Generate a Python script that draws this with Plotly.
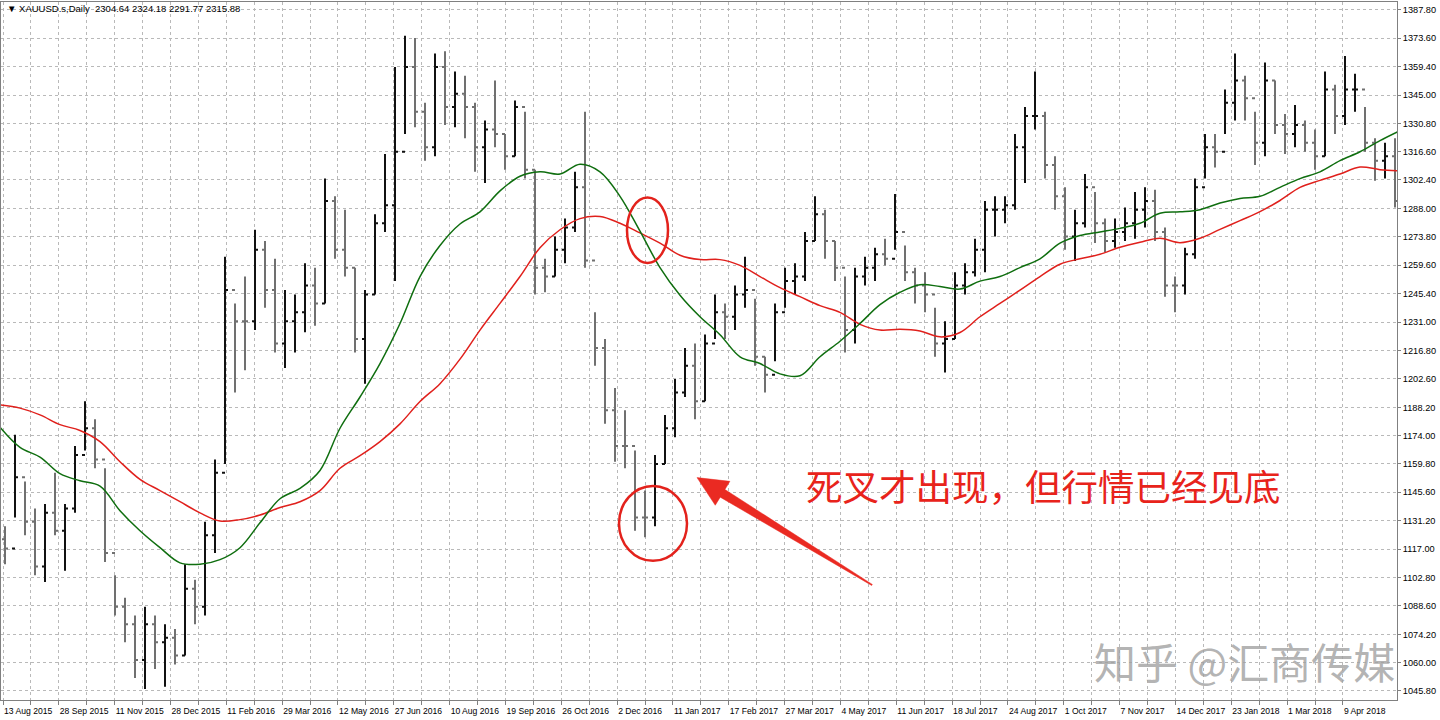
import plotly.graph_objects as go

# ---------------- data ----------------
# Each price point = one block of ~5.7 daily bars (block high / low / close)
block_high = [1128.5, 1174.4, 1150.9, 1137.4, 1139.7, 1155.3, 1139.7, 1168.8, 1191.2, 1182.2,
              1157.6, 1103.8, 1092.6, 1083.7, 1088.1, 1083.7, 1079.2, 1076.9, 1109.4, 1101.6,
              1130.7, 1162.0, 1263.9, 1240.4, 1253.9, 1277.4, 1271.8, 1262.8, 1247.2, 1244.9,
              1260.6, 1258.3, 1303.1, 1294.2, 1287.5, 1258.3, 1247.2, 1285.2, 1315.5, 1359.1,
              1374.8, 1373.7, 1341.2, 1365.9, 1367.0, 1356.9, 1354.7, 1341.2, 1332.3, 1352.4,
              1325.5, 1342.3, 1336.7, 1307.6, 1262.8, 1274.0, 1283.0, 1306.5, 1336.7, 1236.0,
              1222.5, 1197.9, 1186.7, 1166.5, 1146.4, 1164.3, 1184.4, 1202.4, 1218.0, 1220.3,
              1224.8, 1244.9, 1240.4, 1249.4, 1263.9, 1242.7, 1213.6, 1240.4, 1258.3, 1260.6,
              1276.3, 1294.2, 1287.5, 1271.8, 1253.9, 1258.3, 1263.9, 1268.4, 1272.9, 1295.3,
              1269.5, 1258.3, 1256.1, 1238.2, 1231.5, 1256.1, 1260.6, 1272.9, 1291.9, 1294.2,
              1294.2, 1325.5, 1339.0, 1356.9, 1336.7, 1314.3, 1298.7, 1287.5, 1305.4, 1296.4,
              1283.0, 1283.0, 1288.6, 1296.4, 1298.7, 1297.5, 1278.5, 1253.9, 1268.4, 1303.1,
              1325.5, 1325.5, 1347.9, 1365.9, 1354.7, 1336.7, 1361.4, 1352.4, 1335.6, 1340.1,
              1332.3, 1327.8, 1356.9, 1350.2, 1364.7, 1355.8, 1339.0, 1323.3, 1321.1, 1323.3]
block_low = [1109.4, 1132.9, 1124.0, 1103.8, 1100.5, 1124.0, 1106.1, 1135.2, 1166.5, 1157.6,
             1110.5, 1083.7, 1070.2, 1052.3, 1046.7, 1056.8, 1047.8, 1059.0, 1063.5, 1079.2,
             1083.7, 1115.0, 1159.8, 1195.6, 1206.8, 1227.0, 1238.2, 1215.8, 1208.0, 1215.8,
             1225.9, 1229.2, 1240.4, 1262.8, 1253.9, 1215.8, 1200.1, 1244.9, 1276.3, 1251.6,
             1325.5, 1328.9, 1312.1, 1314.3, 1330.0, 1328.9, 1323.3, 1306.5, 1300.9, 1318.8,
             1307.6, 1314.3, 1303.1, 1244.9, 1246.0, 1253.9, 1260.6, 1276.3, 1258.3, 1209.1,
             1180.0, 1160.9, 1157.6, 1126.2, 1122.9, 1128.5, 1159.8, 1173.2, 1193.4, 1182.2,
             1191.2, 1222.5, 1222.5, 1227.0, 1238.2, 1209.1, 1195.6, 1211.3, 1238.2, 1244.9,
             1251.6, 1271.8, 1262.8, 1251.6, 1215.8, 1220.3, 1249.4, 1251.6, 1259.5, 1267.3,
             1251.6, 1240.4, 1236.0, 1213.6, 1205.7, 1222.5, 1244.9, 1253.9, 1256.1, 1274.0,
             1280.7, 1287.5, 1300.9, 1327.8, 1303.1, 1287.5, 1267.3, 1261.7, 1278.5, 1270.7,
             1266.2, 1268.4, 1271.8, 1272.9, 1278.5, 1271.8, 1243.8, 1236.0, 1244.9, 1262.8,
             1303.1, 1308.7, 1325.5, 1332.3, 1332.3, 1309.9, 1314.3, 1325.5, 1315.5, 1318.8,
             1316.6, 1307.6, 1314.3, 1325.5, 1330.0, 1336.7, 1316.6, 1302.0, 1303.1, 1288.6]
block_close = [1117.3, 1153.1, 1130.7, 1108.3, 1135.2, 1126.2, 1137.4, 1164.3, 1177.7, 1162.0,
               1115.0, 1088.1, 1079.2, 1061.3, 1079.2, 1070.2, 1072.5, 1063.5, 1097.1, 1088.1,
               1124.0, 1155.3, 1247.2, 1231.5, 1231.5, 1267.3, 1247.2, 1220.3, 1231.5, 1236.0,
               1249.4, 1240.4, 1291.9, 1267.3, 1258.3, 1222.5, 1244.9, 1280.7, 1289.7, 1316.6,
               1359.1, 1336.7, 1318.8, 1359.1, 1339.0, 1345.7, 1339.0, 1318.8, 1327.8, 1325.5,
               1314.3, 1339.0, 1307.6, 1258.3, 1253.9, 1267.3, 1278.5, 1298.7, 1262.0, 1218.0,
               1186.7, 1168.8, 1168.8, 1132.9, 1132.9, 1159.8, 1177.7, 1195.6, 1209.1, 1191.2,
               1220.3, 1236.0, 1233.7, 1244.9, 1247.2, 1213.6, 1204.6, 1236.0, 1251.6, 1253.9,
               1271.8, 1285.2, 1271.8, 1258.3, 1227.0, 1253.9, 1258.3, 1265.1, 1262.8, 1276.3,
               1256.1, 1249.4, 1244.9, 1220.3, 1222.5, 1249.4, 1256.1, 1267.3, 1287.5, 1287.5,
               1289.7, 1318.8, 1334.5, 1334.5, 1309.9, 1294.2, 1274.0, 1280.7, 1298.7, 1280.7,
               1271.8, 1276.3, 1280.7, 1287.5, 1291.9, 1276.3, 1249.4, 1249.4, 1265.1, 1298.7,
               1318.8, 1316.6, 1341.2, 1352.4, 1343.5, 1321.1, 1352.4, 1330.0, 1325.5, 1330.0,
               1321.1, 1314.3, 1347.9, 1334.5, 1347.9, 1347.9, 1321.1, 1312.1, 1314.3, 1291.9]
first_open = 1122.0

# Moving averages, sampled every 2 blocks
ma_green = [1178.2, 1168.1, 1163.2, 1154.9, 1151.3, 1148.6, 1136.3, 1126.2, 1117.7, 1110.1,
            1109.4, 1111.7, 1117.7, 1130.2, 1142.3, 1147.5, 1156.5, 1177.7, 1193.4, 1210.2,
            1230.3, 1253.9, 1269.5, 1280.3, 1286.4, 1296.9, 1304.3, 1306.5, 1305.4, 1310.3,
            1306.5, 1294.2, 1276.7, 1258.4, 1244.5, 1233.7, 1224.7, 1213.6, 1210.2, 1205.0,
            1204.1, 1213.6, 1221.4, 1230.3, 1239.8, 1246.0, 1249.8, 1248.9, 1247.6, 1251.6,
            1253.9, 1258.4, 1262.8, 1270.7, 1274.5, 1276.3, 1278.1, 1280.7, 1285.7, 1286.4,
            1287.5, 1290.8, 1293.1, 1294.2, 1298.7, 1303.1, 1306.5, 1312.1, 1316.6, 1322.2,
            1327.2]
ma_red = [1189.4, 1187.8, 1184.4, 1179.5, 1176.6, 1171.0, 1160.9, 1152.0, 1146.4, 1140.8,
          1135.2, 1131.1, 1131.8, 1134.1, 1137.9, 1140.8, 1146.4, 1157.6, 1163.9, 1171.0,
          1179.9, 1191.1, 1200.1, 1212.4, 1227.0, 1240.4, 1253.9, 1268.4, 1277.4, 1283.0,
          1284.1, 1280.7, 1275.8, 1270.7, 1264.6, 1262.4, 1262.4, 1259.5, 1253.9, 1248.3,
          1243.8, 1239.3, 1235.9, 1229.9, 1227.0, 1227.4, 1226.5, 1223.6, 1225.8, 1233.7,
          1240.4, 1247.1, 1253.9, 1260.1, 1262.8, 1265.1, 1268.6, 1271.1, 1273.1, 1270.9,
          1273.1, 1277.6, 1282.0, 1286.5, 1292.1, 1298.7, 1302.2, 1305.4, 1308.9, 1307.6,
          1307.0]

date_labels = ["13 Aug 2015", "28 Sep 2015", "11 Nov 2015", "28 Dec 2015", "11 Feb 2016",
               "29 Mar 2016", "12 May 2016", "27 Jun 2016", "10 Aug 2016", "19 Sep 2016",
               "26 Oct 2016", "2 Dec 2016", "11 Jan 2017", "17 Feb 2017", "27 Mar 2017",
               "4 May 2017", "11 Jun 2017", "18 Jul 2017", "24 Aug 2017", "1 Oct 2017",
               "7 Nov 2017", "14 Dec 2017", "23 Jan 2018", "1 Mar 2018", "9 Apr 2018"]
price_ticks = [1387.80, 1373.60, 1359.40, 1345.00, 1330.80, 1316.60, 1302.40, 1288.00,
               1273.80, 1259.60, 1245.40, 1231.00, 1216.80, 1202.60, 1188.20, 1174.00,
               1159.80, 1145.60, 1131.20, 1117.00, 1102.80, 1088.60, 1074.20, 1060.00,
               1045.80]
header_text = "▼ XAUUSD.s,Daily  2304.64 2324.18 2291.77 2315.88"
note_text = "死叉才出现，但行情已经见底"
watermark = "知乎 @汇商传媒"

# ---------------- layout constants ----------------
W, H = 1440, 720
M_L, M_R, M_T, M_B = 1, 43, 2, 20
X_RANGE = [0.1, 139.7]
Y_RANGE = [1041.2, 1391.8]
LABEL_STEP = 5.583          # blocks between date labels
LABEL_START = 0.3

xs = [i + 0.5 for i in range(len(block_close))]
opens = [first_open] + block_close[:-1]
ma_x = [2 * j for j in range(len(ma_green))]

# grid / tick positions (label every second grid line)
tickvals, ticktext = [], []
for k, lab in enumerate(date_labels):
    tickvals.append(LABEL_START + LABEL_STEP * k)
    ticktext.append(lab)
    if k < len(date_labels) - 1:
        tickvals.append(LABEL_START + LABEL_STEP * (k + 0.5))
        ticktext.append("")

fig = go.Figure()
fig.add_trace(go.Ohlc(
    x=xs, open=opens, high=block_high, low=block_low, close=block_close,
    increasing=dict(line=dict(color="#111111", width=2)),
    decreasing=dict(line=dict(color="#707070", width=2)),
    tickwidth=0.3, showlegend=False, hoverinfo="skip"))
fig.add_trace(go.Scatter(x=ma_x, y=ma_red, mode="lines", line=dict(color="#e0201c", width=1.5, shape="spline"),
                         showlegend=False, hoverinfo="skip"))
fig.add_trace(go.Scatter(x=ma_x, y=ma_green, mode="lines", line=dict(color="#0f6e0f", width=1.5, shape="spline"),
                         showlegend=False, hoverinfo="skip"))

# helpers for pixel-space geometry of the arrow
PW = W - M_L - M_R
PH = H - M_T - M_B


def to_px(u, p):
    return ((u - X_RANGE[0]) / (X_RANGE[1] - X_RANGE[0]) * PW,
            (Y_RANGE[1] - p) / (Y_RANGE[1] - Y_RANGE[0]) * PH)


def to_data(px, py):
    return (X_RANGE[0] + px / PW * (X_RANGE[1] - X_RANGE[0]),
            Y_RANGE[1] - py / PH * (Y_RANGE[1] - Y_RANGE[0]))


arrow_head = (69.7, 1152.9)
arrow_tail = (87.2, 1099.0)
hx, hy = to_px(*arrow_head)
tx, ty = to_px(*arrow_tail)
dx, dy = tx - hx, ty - hy
L = (dx * dx + dy * dy) ** 0.5
ux, uy = dx / L, dy / L
nx, ny = -uy, ux
head_len, head_w, shaft_w0, shaft_w1 = 30, 14, 4.5, 0.6
bx, by = hx + ux * head_len, hy + uy * head_len
pts = [(hx, hy),
       (bx + nx * head_w, by + ny * head_w),
       (bx + nx * shaft_w0, by + ny * shaft_w0),
       (tx + nx * shaft_w1, ty + ny * shaft_w1),
       (tx - nx * shaft_w1, ty - ny * shaft_w1),
       (bx - nx * shaft_w0, by - ny * shaft_w0),
       (bx - nx * head_w, by - ny * head_w)]
dpts = [to_data(px, py) for px, py in pts]
path = "M " + " L ".join(f"{u:.4f},{p:.3f}" for u, p in dpts) + " Z"
fig.add_shape(type="path", path=path, xref="x", yref="y",
              fillcolor="#ea2a22", line=dict(color="#ea2a22", width=0.5))

# circles
fig.add_shape(type="circle", xref="x", yref="y", x0=62.7, x1=66.8, y0=1260.7, y1=1293.6,
              line=dict(color="#e3221c", width=2.5))
fig.add_shape(type="circle", xref="x", yref="y", x0=61.9, x1=68.7, y0=1111.1, y1=1148.7,
              line=dict(color="#e3221c", width=2.5))

fig.add_annotation(x=80.4, y=1148.7, xref="x", yref="y", text=note_text, showarrow=False,
                   xanchor="left", yanchor="middle",
                   font=dict(family="Noto Sans CJK SC", size=36.5, color="#e8231b"))
fig.add_annotation(x=0.7815, y=0.056, xref="paper", yref="paper", text=watermark, showarrow=False,
                   xanchor="left", yanchor="middle",
                   font=dict(family="Noto Sans CJK SC", size=42, color="rgba(160,160,160,0.8)"))
fig.add_annotation(x=0.003, y=0.991, xref="paper", yref="paper", text=header_text, showarrow=False,
                   xanchor="left", yanchor="middle",
                   font=dict(family="Liberation Sans, DejaVu Sans", size=9.5, color="#000000"))

x_font = dict(family="Liberation Sans, DejaVu Sans", size=8.6, color="#000000")
y_font = dict(family="Liberation Sans, DejaVu Sans", size=9.2, color="#000000")
fig.update_layout(
    width=W, height=H,
    margin=dict(l=M_L, r=M_R, t=M_T, b=M_B, pad=0, autoexpand=False),
    paper_bgcolor="#ffffff", plot_bgcolor="#ffffff",
    showlegend=False,
    xaxis=dict(range=X_RANGE, tickmode="array", tickvals=tickvals, ticktext=ticktext,
               showgrid=True, gridcolor="#b9b9b9", griddash="dot", gridwidth=1,
               ticks="outside", ticklen=4, tickcolor="#808080", tickangle=0,
               ticklabelposition="outside right", tickfont=x_font, automargin=False,
               ticklabelstandoff=3,
               showline=True, linecolor="#808080", linewidth=1, mirror=True,
               zeroline=False, rangeslider=dict(visible=False), fixedrange=True),
    yaxis=dict(range=Y_RANGE, side="right", tickmode="array", tickvals=price_ticks,
               ticktext=[f"{v:.2f}" for v in price_ticks],
               showgrid=True, gridcolor="#b9b9b9", griddash="dot", gridwidth=1,
               ticks="outside", ticklen=3, tickcolor="#808080", tickfont=y_font,
               automargin=False,
               showline=True, linecolor="#808080", linewidth=1, mirror=True,
               zeroline=False, fixedrange=True),
)

fig.write_html("out.html", config={"displayModeBar": False},
               post_script="document.body.style.margin='0px';document.body.style.padding='0px';")
